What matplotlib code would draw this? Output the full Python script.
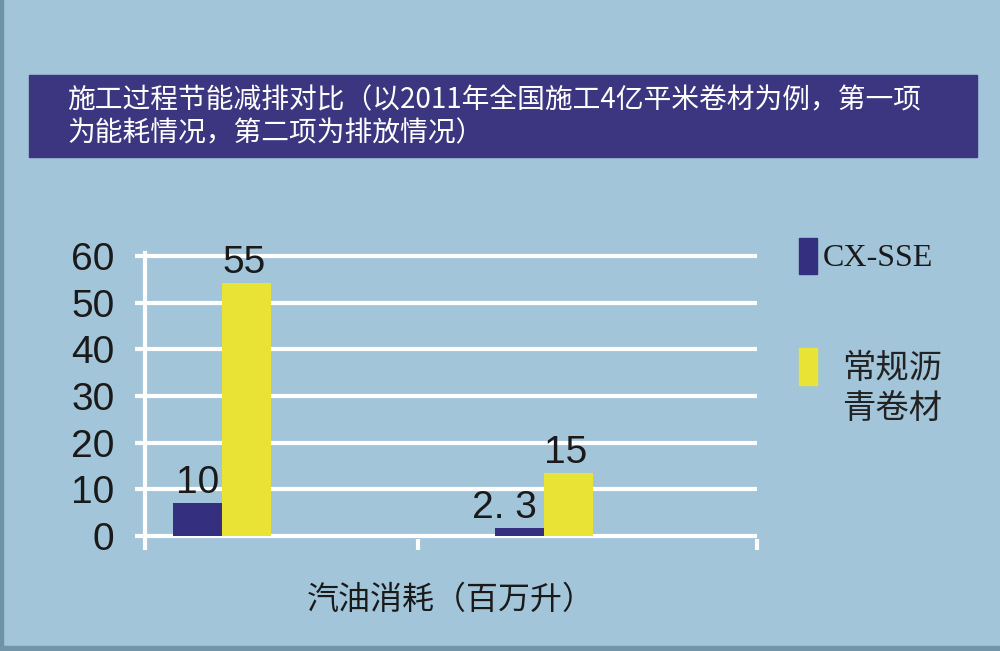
import numpy as np
import matplotlib
matplotlib.use("Agg")
from matplotlib import pyplot as plt
from matplotlib.patches import Rectangle

plt.rcParams['font.family'] = ['Liberation Sans', 'Noto Sans CJK SC', 'DejaVu Sans']

# data (bar heights as drawn, labels as printed)
groups = [0, 1]
cx_sse = [7.1, 1.7]
asphalt = [54.2, 13.5]
cx_labels = ["10", "2. 3"]
asphalt_labels = ["55", "15"]
series_names = ["CX-SSE", "常规沥\n青卷材"]
xlabel = "汽油消耗（百万升）"
title_lines = ["施工过程节能减排对比（以2011年全国施工4亿平米卷材为例，第一项",
               "为能耗情况，第二项为排放情况）"]
yticks = [0, 10, 20, 30, 40, 50, 60]

bg = '#a3c5d9'
navy = '#352f80'
yellow = '#e9e335'
box = '#3c3680'
ink = '#1a1a1a'

W, H = 1000, 651
def rect(x0, y0, x1, y1):
    # pixel box (top-left origin) -> figure fraction
    return [x0 / W, 1 - y1 / H, (x1 - x0) / W, (y1 - y0) / H]

fig = plt.figure(figsize=(10, 6.51), dpi=100, facecolor=bg)

# frame edges and title box
fig.patches.append(Rectangle((0, 0), 2.5 / W, 1, transform=fig.transFigure, color='#6d93a7'))
fig.patches.append(Rectangle((0, 0), 1, 5 / H, transform=fig.transFigure, color='#7295a9'))
r = rect(29, 75, 977, 157)
fig.patches.append(Rectangle((r[0], r[1]), r[2], r[3], transform=fig.transFigure, color=box))
fig.text(67 / W, 1 - 100 / H, title_lines[0], color='white', fontsize=20,
         family=['Noto Sans CJK SC'], va='center', ha='left')
fig.text(67 / W, 1 - 133 / H, title_lines[1], color='white', fontsize=20,
         family=['Noto Sans CJK SC'], va='center', ha='left')

ax = fig.add_axes(rect(145, 253.2, 757, 538.8))
ax.set_facecolor(bg)
x = np.array(groups, dtype=float)
w = 0.152
ax.bar(x - w / 2, cx_sse, w, color=navy, zorder=3)
ax.bar(x + w / 2, asphalt, w, color=yellow, zorder=3)

for xi, v, lab, dx in zip(x - w / 2, cx_sse, cx_labels, [0, -11]):
    ax.annotate(lab, (xi, v), xytext=(dx, 7), textcoords='offset points',
                ha='center', va='baseline', fontsize=28, color=ink)
for xi, v, lab in zip(x + w / 2, asphalt, asphalt_labels):
    ax.annotate(lab, (xi, v), xytext=(-2, 7), textcoords='offset points',
                ha='center', va='baseline', fontsize=28, color=ink)

ax.set_ylim(-0.6, 60.6)
ax.set_xlim(-0.239, 1.661)
ax.set_yticks(yticks)
ax.yaxis.grid(True, color='white', linewidth=3)
ax.set_axisbelow(True)
ax.set_xticks([-0.239, 0.609, 1.661])
ax.tick_params(axis='x', direction='out', length=8, width=3, color='white', labelbottom=False)
ax.tick_params(axis='y', direction='out', length=7, width=3, color='white',
               labelsize=28, pad=15, labelcolor=ink)
for s in ['top', 'right', 'bottom']:
    ax.spines[s].set_visible(False)
ax.spines['left'].set_color('white')
ax.spines['left'].set_linewidth(3)

fig.text(451 / W, 1 - 600 / H, xlabel, fontsize=23, color=ink,
         family=['Noto Sans CJK SC'], ha='center', va='center')

# legend
for (y0, y1), c in zip([(238, 274), (348, 385)], [navy, yellow]):
    r = rect(799, y0, 817, y1)
    fig.patches.append(Rectangle((r[0], r[1]), r[2], r[3], transform=fig.transFigure, color=c))
fig.text(823 / W, 1 - 258 / H, series_names[0], fontsize=23, color=ink,
         family=['Liberation Serif'], ha='left', va='center')
fig.text(842 / W, 1 - 389 / H, series_names[1], fontsize=24, color='#222222',
         family=['Noto Sans CJK SC'], ha='left', va='center', linespacing=1.2)

fig.savefig('out.png', dpi=100, facecolor=bg)
